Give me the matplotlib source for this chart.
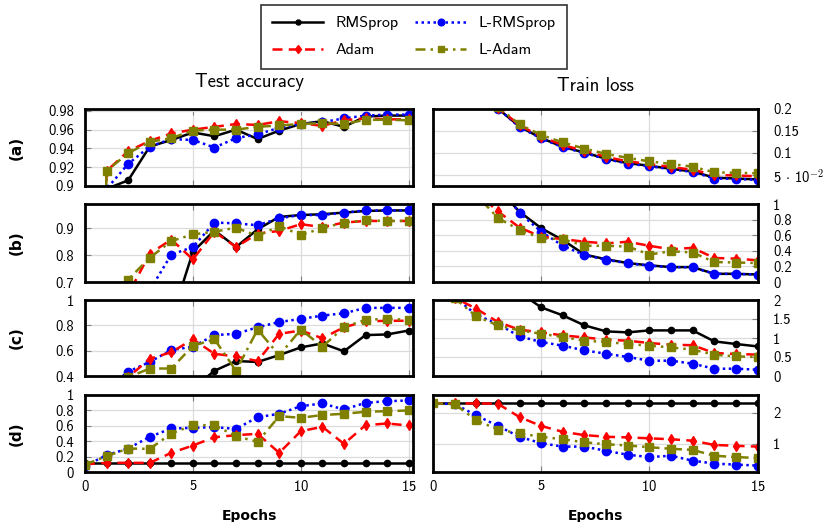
import matplotlib
matplotlib.use('Agg')
import matplotlib.pyplot as plt

plt.rcParams['font.family'] = ['cmss10', 'DejaVu Sans']
plt.rcParams['mathtext.fontset'] = 'cm'
plt.rcParams['axes.unicode_minus'] = False
plt.rcParams['axes.formatter.use_mathtext'] = True

epochs = [0, 1, 2, 3, 4, 5, 6, 7, 8, 9, 10, 11, 12, 13, 14, 15]
names = ['RMSprop', 'L-RMSprop', 'Adam', 'L-Adam']
row_labels = ['(a)', '(b)', '(c)', '(d)']

# test accuracy, one list per optimizer and per row
acc_a_rms = [0.1, 0.897, 0.906, 0.942, 0.949, 0.957, 0.953, 0.960, 0.950, 0.959, 0.966, 0.969, 0.963, 0.974, 0.975, 0.975]
acc_a_lrms = [0.1, 0.897, 0.9235, 0.942, 0.950, 0.949, 0.941, 0.951, 0.955, 0.962, 0.966, 0.968, 0.972, 0.975, 0.976, 0.976]
acc_a_adam = [0.1, 0.916, 0.937, 0.948, 0.956, 0.960, 0.963, 0.966, 0.965, 0.969, 0.967, 0.964, 0.970, 0.972, 0.971, 0.971]
acc_a_ladam = [0.1, 0.916, 0.935, 0.947, 0.951, 0.959, 0.960, 0.960, 0.963, 0.9645, 0.966, 0.967, 0.966, 0.9705, 0.9705, 0.970]

acc_b_rms = [0.1, 0.3, 0.45, 0.5, 0.56, 0.812, 0.892, 0.830, 0.896, 0.942, 0.949, 0.952, 0.958, 0.964, 0.966, 0.966]
acc_b_lrms = [0.1, 0.3, 0.5, 0.669, 0.802, 0.830, 0.921, 0.918, 0.911, 0.937, 0.949, 0.949, 0.958, 0.966, 0.966, 0.966]
acc_b_adam = [0.1, 0.4, 0.654, 0.805, 0.858, 0.784, 0.887, 0.830, 0.880, 0.890, 0.915, 0.904, 0.921, 0.927, 0.927, 0.927]
acc_b_ladam = [0.1, 0.45, 0.709, 0.790, 0.852, 0.877, 0.887, 0.902, 0.871, 0.908, 0.875, 0.900, 0.921, 0.929, 0.927, 0.927]

acc_c_rms = [0.1, 0.1, 0.1, 0.15, 0.2, 0.3, 0.4415, 0.518, 0.511, 0.565, 0.626, 0.657, 0.595, 0.723, 0.728, 0.759]
acc_c_lrms = [0.1, 0.3, 0.434, 0.511, 0.605, 0.631, 0.723, 0.733, 0.785, 0.826, 0.851, 0.877, 0.895, 0.938, 0.938, 0.938]
acc_c_adam = [0.1, 0.2, 0.39, 0.536, 0.588, 0.690, 0.575, 0.554, 0.518, 0.733, 0.759, 0.698, 0.785, 0.831, 0.836, 0.836]
acc_c_ladam = [0.1, 0.2, 0.39, 0.459, 0.459, 0.638, 0.690, 0.4415, 0.767, 0.562, 0.767, 0.631, 0.785, 0.844, 0.851, 0.844]

acc_d_rms = [0.115, 0.115, 0.115, 0.115, 0.115, 0.115, 0.115, 0.115, 0.115, 0.115, 0.115, 0.115, 0.115, 0.115, 0.115, 0.115]
acc_d_lrms = [0.08, 0.218, 0.305, 0.457, 0.565, 0.574, 0.582, 0.560, 0.712, 0.756, 0.855, 0.890, 0.812, 0.898, 0.920, 0.929]
acc_d_adam = [0.1, 0.119, 0.119, 0.119, 0.249, 0.344, 0.452, 0.478, 0.496, 0.249, 0.530, 0.587, 0.366, 0.608, 0.630, 0.604]
acc_d_ladam = [0.097, 0.205, 0.305, 0.300, 0.500, 0.608, 0.608, 0.465, 0.392, 0.725, 0.704, 0.740, 0.756, 0.782, 0.790, 0.799]

# train loss
loss_a_rms = [2.3, 0.5, 0.29, 0.201, 0.160, 0.134, 0.114, 0.101, 0.087, 0.077, 0.071, 0.064, 0.058, 0.044, 0.042, 0.040]
loss_a_lrms = [2.3, 0.5, 0.29, 0.201, 0.159, 0.133, 0.113, 0.100, 0.086, 0.076, 0.070, 0.063, 0.057, 0.042, 0.041, 0.039]
loss_a_adam = [2.3, 0.5, 0.295, 0.203, 0.163, 0.137, 0.118, 0.105, 0.091, 0.081, 0.075, 0.068, 0.062, 0.050, 0.049, 0.047]
loss_a_ladam = [2.3, 0.5, 0.30, 0.205, 0.165, 0.141, 0.124, 0.110, 0.098, 0.089, 0.081, 0.075, 0.069, 0.056, 0.055, 0.054]

loss_b_rms = [2.3, 2.3, 2.0, 1.2, 0.90, 0.690, 0.538, 0.352, 0.291, 0.243, 0.213, 0.191, 0.191, 0.105, 0.105, 0.096]
loss_b_lrms = [2.3, 2.3, 2.0, 1.25, 0.884, 0.646, 0.464, 0.345, 0.285, 0.240, 0.210, 0.191, 0.188, 0.105, 0.103, 0.096]
loss_b_adam = [2.3, 2.0, 1.15, 0.905, 0.698, 0.580, 0.550, 0.516, 0.495, 0.516, 0.464, 0.420, 0.438, 0.308, 0.300, 0.278]
loss_b_ladam = [2.3, 2.0, 1.12, 0.820, 0.668, 0.560, 0.550, 0.464, 0.464, 0.455, 0.352, 0.395, 0.378, 0.256, 0.250, 0.243]

loss_c_rms = [2.3, 2.3, 2.3, 2.3, 2.2, 1.806, 1.595, 1.332, 1.174, 1.148, 1.200, 1.200, 1.200, 0.911, 0.842, 0.779]
loss_c_lrms = [2.3, 2.08, 1.61, 1.368, 1.042, 0.895, 0.797, 0.674, 0.587, 0.500, 0.403, 0.403, 0.324, 0.192, 0.192, 0.166]
loss_c_adam = [2.3, 2.06, 1.77, 1.42, 1.218, 1.148, 1.068, 1.016, 0.955, 0.929, 0.868, 0.824, 0.810, 0.605, 0.580, 0.561]
loss_c_ladam = [2.3, 2.05, 1.568, 1.332, 1.200, 1.112, 1.025, 0.929, 0.895, 0.842, 0.797, 0.753, 0.692, 0.561, 0.516, 0.500]

loss_d_rms = [2.302, 2.302, 2.302, 2.302, 2.302, 2.302, 2.302, 2.302, 2.302, 2.302, 2.302, 2.302, 2.302, 2.302, 2.302, 2.302]
loss_d_lrms = [2.30, 2.28, 1.915, 1.577, 1.230, 1.022, 0.915, 0.915, 0.779, 0.653, 0.580, 0.620, 0.464, 0.369, 0.337, 0.306]
loss_d_adam = [2.30, 2.30, 2.30, 2.29, 1.86, 1.577, 1.388, 1.284, 1.230, 1.210, 1.180, 1.150, 1.104, 0.968, 0.940, 0.915]
loss_d_ladam = [2.30, 2.28, 1.757, 1.463, 1.337, 1.230, 1.148, 1.053, 0.990, 0.950, 0.896, 0.843, 0.810, 0.621, 0.580, 0.548]

acc_rows = [
    [acc_a_rms, acc_a_lrms, acc_a_adam, acc_a_ladam],
    [acc_b_rms, acc_b_lrms, acc_b_adam, acc_b_ladam],
    [acc_c_rms, acc_c_lrms, acc_c_adam, acc_c_ladam],
    [acc_d_rms, acc_d_lrms, acc_d_adam, acc_d_ladam],
]
loss_rows = [
    [loss_a_rms, loss_a_lrms, loss_a_adam, loss_a_ladam],
    [loss_b_rms, loss_b_lrms, loss_b_adam, loss_b_ladam],
    [loss_c_rms, loss_c_lrms, loss_c_adam, loss_c_ladam],
    [loss_d_rms, loss_d_lrms, loss_d_adam, loss_d_ladam],
]

acc_ticks = [[0.9, 0.92, 0.94, 0.96, 0.98], [0.7, 0.8, 0.9], [0.4, 0.6, 0.8, 1],
             [0, 0.2, 0.4, 0.6, 0.8, 1]]
acc_tick_labels = [['0.9', '0.92', '0.94', '0.96', '0.98'], ['0.7', '0.8', '0.9'],
                   ['0.4', '0.6', '0.8', '1'], ['0', '0.2', '0.4', '0.6', '0.8', '1']]
acc_lims = [(0.9, 0.982), (0.7, 0.99), (0.41, 1.0), (0.0, 1.0)]

loss_ticks = [[0.05, 0.1, 0.15, 0.2], [0, 0.2, 0.4, 0.6, 0.8, 1], [0, 0.5, 1, 1.5, 2], [1, 2]]
loss_tick_labels = [[r'5 $\cdot$ 10$^{-2}$', '0.1', '0.15', '0.2'],
                    ['0', '0.2', '0.4', '0.6', '0.8', '1'],
                    ['0', '0.5', '1', '1.5', '2'], ['1', '2']]
loss_lims = [(0.025, 0.2), (0.0, 1.0), (0.0, 2.0), (0.1, 2.57)]

colors = ['black', 'blue', 'red', '#808000']
dashes = ['-', (0, (1, 1.4)), (0, (4, 2.5)), (0, (4, 2, 1, 2))]
markers = ['o', 'o', 'd', 's']
msizes = [4.5, 6, 5.5, 6]

fig = plt.figure(figsize=(8.38, 5.22), dpi=100)

W = 838.0
H = 522.0
row_px = [(109, 186), (204, 282), (300, 376), (395, 472)]


def style_axis(ax, side):
    ax.grid(True, color='#dcdcdc', linewidth=0.9)
    ax.set_axisbelow(True)
    for s in ax.spines.values():
        s.set_linewidth(2.0)
        s.set_color('black')
    ax.tick_params(direction='in', color='#808080', length=4, width=0.8,
                   labelsize=10.5, top=True, bottom=True)
    if side == 'left':
        ax.tick_params(axis='y', left=True, right=False, pad=8)
    else:
        ax.yaxis.tick_right()
        ax.tick_params(axis='y', left=False, right=True, pad=11)
    ax.set_xticks([0, 5, 10, 15])


handles = []
for r in range(4):
    top, bot = row_px[r]
    b = 1 - bot / H
    h = (bot - top) / H
    axl = fig.add_axes([85 / W, b, 328 / W, h])
    axr = fig.add_axes([433 / W, b, 325 / W, h])

    for k in range(4):
        ln, = axl.plot(epochs, acc_rows[r][k], color=colors[k], linestyle=dashes[k],
                       linewidth=1.8, marker=markers[k], markersize=msizes[k],
                       label=names[k])
        axr.plot(epochs, loss_rows[r][k], color=colors[k], linestyle=dashes[k],
                 linewidth=1.8, marker=markers[k], markersize=msizes[k])
        if r == 0:
            handles.append(ln)

    style_axis(axl, 'left')
    style_axis(axr, 'right')
    axl.set_xlim(0, 15.2)
    axr.set_xlim(0, 15.02)
    axl.set_ylim(*acc_lims[r])
    axr.set_ylim(*loss_lims[r])
    axl.set_yticks(acc_ticks[r])
    axl.set_yticklabels(acc_tick_labels[r])
    axr.set_yticks(loss_ticks[r])
    axr.set_yticklabels(loss_tick_labels[r])

    if r < 3:
        axl.set_xticklabels([])
        axr.set_xticklabels([])
    else:
        axl.tick_params(axis='x', pad=5)
        axr.tick_params(axis='x', pad=5)
        axl.set_xlabel('Epochs', fontsize=10, fontweight='bold',
                       family='DejaVu Sans', labelpad=11)
        axr.set_xlabel('Epochs', fontsize=10, fontweight='bold',
                       family='DejaVu Sans', labelpad=11)

    if r == 0:
        axl.set_title('Test accuracy', fontsize=13.5, pad=16)
        axr.set_title('Train loss', fontsize=13.5, pad=13)

    fig.text(16 / W, 1 - (top + bot) / 2 / H, row_labels[r], rotation=90,
             ha='center', va='center', fontsize=11, fontweight='bold',
             family='DejaVu Sans')

# legend: fill order gives rows RMSprop/L-RMSprop and Adam/L-Adam
leg = fig.legend([handles[0], handles[2], handles[1], handles[3]],
                 [names[0], names[2], names[1], names[3]],
                 loc='upper center', bbox_to_anchor=(414 / W, 1 - 5 / H), ncol=2,
                 fontsize=11.5, frameon=True, fancybox=False, handlelength=3.2,
                 columnspacing=1.0, handletextpad=0.8, borderpad=0.7,
                 labelspacing=0.8, markerscale=0.8, borderaxespad=0)
leg.get_frame().set_edgecolor('black')
leg.get_frame().set_linewidth(1.2)

fig.savefig('out.png', dpi=100)
